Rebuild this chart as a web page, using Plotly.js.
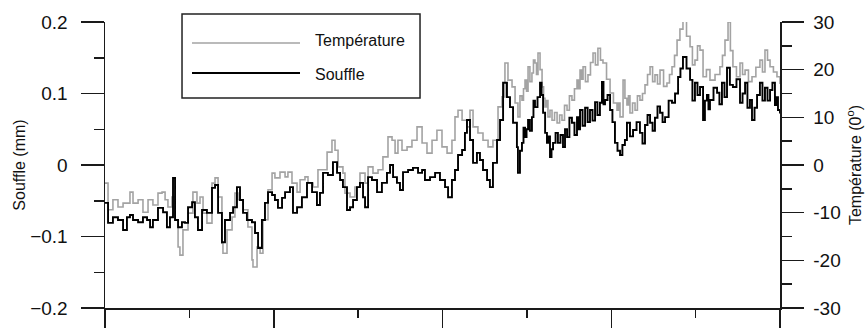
<!DOCTYPE html>
<html>
<head>
<meta charset="utf-8">
<script src="https://cdn.plot.ly/plotly-3.0.1.min.js"></script>
<style>html,body{margin:0;padding:0;background:#fff;}#chart{width:867px;height:328px;}</style>
</head>
<body>
<div id="chart"></div>
<script>
// Time axis (arbitrary units, 0..400) and series values
const tSouffle = [0,1.8,4.7,7.7,10.7,13.0,14.8,16.6,19.6,22.5,24.9,26.7,28.4,31.4,34.4,36.7,38.5,40.3,41.5,43.3,45.6,47.4,49.2,51.6,53.3,55.1,57.5,60.4,63.4,65.2,67.0,69.3,71.1,74.1,75.9,78.2,80.0,81.8,84.1,87.1,88.9,90.7,93.0,94.8,96.6,99.0,100.7,102.5,104.9,106.7,109.6,111.4,113.8,116.7,119.7,122.7,125.6,127.4,129.2,132.1,135.1,137.5,139.3,141.0,143.4,145.2,147.0,149.3,151.1,152.9,154.1,155.9,158.2,161.2,164.1,167.1,168.9,170.7,173.0,174.8,176.6,179.6,182.5,185.5,187.9,189.6,192.6,195.6,198.5,201.5,203.3,205.6,207.4,209.2,211.6,213.3,214.5,216.3,218.1,220.4,222.2,224.0,226.4,228.1,229.9,232.3,234.1,235.9,238.2,240.0,241.8,244.1,
  244.7,245.9,247.1,248.0,248.9,249.8,250.7,251.8,253.0,253.9,254.8,256.3,257.8,258.7,259.6,260.8,261.9,262.8,263.7,264.6,265.5,267.0,268.4,269.9,271.4,272.6,273.8,275.2,276.7,278.2,279.7,280.6,281.5,283.0,284.5,286.0,287.4,288.9,290.4,291.8,293.3,294.5,295.4,296.3,297.8,299.3,300.7,302.2,303.7,305.2,306.6,308.1,309.3,311.1,312.9,315.0,317.0,318.5,320.0,321.5,323.0,324.5,325.9,327.4,328.9,330.4,331.9,334.0,336.0,337.8,339.6,341.0,342.5,344.6,346.7,348.1,349.6,351.1,352.6,354.4,355.5,356.7,357.6,358.5,360.6,362.7,364.1,365.6,367.1,368.6,370.3,372.1,374.2,376.3,377.8,379.3,380.7,382.2,383.4,384.9,386.4,388.1,389.6,391.1,392.6,394.1,395.5,397.0,398.0,398.8,400];
const souffle = [-0.053,-0.081,-0.073,-0.077,-0.091,-0.073,-0.070,-0.077,-0.080,-0.073,-0.077,-0.087,-0.077,-0.060,-0.066,-0.087,-0.073,-0.018,-0.077,-0.087,-0.080,-0.081,-0.059,-0.052,-0.073,-0.091,-0.063,-0.067,-0.032,-0.028,-0.067,-0.108,-0.077,-0.067,-0.059,-0.031,-0.049,-0.067,-0.077,-0.080,-0.095,-0.116,-0.077,-0.053,-0.038,-0.042,-0.049,-0.060,-0.046,-0.038,-0.031,-0.067,-0.059,-0.045,-0.025,-0.038,-0.056,-0.039,-0.011,-0.014,0.004,-0.011,-0.021,-0.031,-0.063,-0.059,-0.049,-0.031,-0.025,-0.045,-0.059,-0.017,-0.021,-0.038,-0.025,-0.011,0.000,-0.017,-0.025,-0.035,-0.010,-0.007,-0.004,-0.011,-0.007,-0.021,-0.017,-0.011,-0.021,-0.031,-0.045,-0.021,-0.007,0.014,0.021,0.045,0.063,0.035,0.003,0.017,0.007,-0.007,-0.021,-0.031,0.003,0.035,0.063,0.115,0.095,0.081,0.059,0.025,
  -0.011,0.020,0.031,0.052,0.039,0.050,0.063,0.048,0.067,0.090,0.081,0.095,0.115,0.098,0.073,0.045,0.031,0.040,0.011,0.022,0.031,0.045,0.031,0.042,0.025,0.050,0.039,0.066,0.059,0.042,0.067,0.050,0.077,0.055,0.080,0.060,0.077,0.062,0.088,0.070,0.087,0.116,0.085,0.091,0.098,0.077,0.060,0.031,0.020,0.014,0.028,0.035,0.059,0.040,0.049,0.060,0.045,0.030,0.056,0.070,0.059,0.048,0.066,0.082,0.073,0.060,0.067,0.090,0.087,0.100,0.123,0.135,0.151,0.135,0.119,0.090,0.115,0.098,0.109,0.063,0.090,0.098,0.078,0.091,0.108,0.101,0.085,0.115,0.095,0.136,0.112,0.109,0.120,0.087,0.100,0.115,0.080,0.091,0.063,0.080,0.098,0.115,0.090,0.108,0.090,0.105,0.115,0.084,0.095,0.077,0.072];

const tTemp = [0,1.8,4.7,7.7,10.7,14.8,16.6,19.6,22.5,25.5,28.4,31.4,33.8,35.6,37.3,39.7,41.5,43.3,44.4,46.2,49.2,52.1,54.5,56.3,58.1,60.4,63.4,65.2,67.0,69.3,69.9,72.3,75.3,77.0,78.8,81.8,84.7,87.1,87.7,90.1,91.9,93.6,96.6,99.0,100.7,103.7,106.7,108.4,110.8,113.8,115.6,118.5,120.3,123.3,126.2,128.6,131.6,134.5,136.3,138.1,141.0,142.2,145.2,148.1,151.1,154.1,155.9,158.8,161.8,164.7,167.7,170.1,171.9,173.6,176.0,179.0,181.9,184.9,187.9,190.8,193.8,196.7,199.7,202.7,205.6,207.4,209.2,211.6,214.5,216.3,218.1,221.0,224.0,227.0,229.9,232.9,235.3,237.0,238.8,241.2,243.0,
  244.7,245.9,247.1,248.0,248.9,249.8,250.7,251.8,253.0,253.9,254.8,255.7,256.6,257.8,259.0,259.9,260.7,261.6,262.5,263.7,264.9,266.4,267.9,269.4,270.8,272.3,273.8,275.2,276.7,278.2,279.7,280.6,281.5,282.4,283.3,284.7,286.2,287.7,289.2,290.6,292.1,293.6,295.1,297.2,299.3,301.3,303.4,304.3,305.2,307.0,308.1,309.3,310.2,311.1,312.6,314.1,315.5,317.0,318.5,320.0,321.5,323.0,324.5,325.9,327.4,328.9,331.0,333.0,334.5,336.0,337.5,339.0,340.7,342.5,344.6,346.7,348.1,349.6,351.1,352.6,354.4,356.4,358.5,361.5,364.4,365.9,367.4,369.2,370.6,372.1,374.2,376.3,377.8,379.3,381.3,383.4,385.7,388.1,389.6,391.1,392.6,394.1,396.1,398.2,400];
const temperature = [-3.8,-9.4,-7.3,-8.8,-8.0,-5.7,-8.0,-7.3,-9.9,-7.3,-8.4,-5.9,-5.7,-7.3,-8.8,-6.7,-11.5,-17.2,-18.9,-13.6,-10.1,-5.7,-8.0,-6.7,-10.1,-12.2,-3.8,-2.7,-6.7,-16.4,-18.5,-13.6,-10.9,-5.9,-7.3,-9.4,-13.0,-19.9,-21.4,-17.2,-18.5,-11.5,-5.2,-1.7,-2.7,-1.5,-2.5,-1.5,-3.8,-5.7,-3.1,-2.5,-3.8,-4.6,-1.0,-1.0,2.7,5.2,3.1,-0.4,-1.7,-5.9,-6.7,-4.6,-1.7,-3.8,-0.4,-1.7,-1.0,1.7,5.9,5.2,2.5,5.2,3.1,3.8,5.2,8.0,4.6,2.5,5.2,7.3,3.8,2.5,5.2,10.1,11.5,9.4,8.0,11.5,8.0,6.7,5.2,3.8,5.2,12.2,14.3,21.4,17.8,16.4,13.0,
  10.1,14.5,13.6,16.0,17.8,15.5,20.6,17.5,19.3,22.0,21.4,19.0,23.5,20.0,16.4,14.0,12.2,13.5,10.1,11.5,9.4,11.0,8.8,10.5,9.4,12.5,11.5,14.5,13.6,16.0,17.8,16.0,19.9,18.0,20.6,17.5,18.9,21.5,23.5,21.0,24.5,22.0,21.4,18.0,15.1,13.0,11.5,13.0,10.1,17.8,14.0,12.6,14.5,10.9,13.0,11.5,14.5,13.6,15.0,16.8,19.0,20.6,17.5,18.9,17.0,19.9,16.5,17.2,19.0,20.6,23.0,26.2,28.5,31.0,27.0,24.8,21.0,22.0,25.0,24.1,18.5,20.0,17.8,19.0,20.6,23.0,26.2,30.0,24.0,20.6,18.5,21.4,19.0,19.9,17.5,18.5,20.5,22.0,19.5,24.1,22.0,20.6,19.5,18.5,17.0];

const xMajorTicks = [0,100,200,300,400];
const leftTickVals = [-0.2,-0.1,0,0.1,0.2];
const leftTickText = ['\u22120.2','\u22120.1','0','0.1','0.2'];
const rightTickVals = [-30,-20,-10,0,10,20,30];
const rightTickText = ['-30','-20','-10','0','10','20','30'];

const FONT = 'Liberation Sans, Arial, sans-serif';
const AX = '#1a1a1a';

const traces = [
  {x: tTemp, y: temperature, name: 'Température', yaxis: 'y2', type: 'scatter', mode: 'lines',
   line: {color: '#a3a3a3', width: 1.6, shape: 'hv'}, showlegend: false},
  {x: tSouffle, y: souffle, name: 'Souffle', yaxis: 'y', type: 'scatter', mode: 'lines',
   line: {color: '#000000', width: 1.9, shape: 'hv'}, showlegend: false}
];

// legend drawn as shapes + annotations
const lgX0 = 0.1141, lgX1 = 0.4667, lgY0 = 0.7343, lgY1 = 1.028;
const layout = {
  width: 867, height: 328,
  margin: {l: 105, r: 87, t: 22, b: 20, pad: 0},
  paper_bgcolor: '#ffffff', plot_bgcolor: '#ffffff',
  font: {family: FONT, size: 16, color: '#111'},
  showlegend: false,
  xaxis: {
    range: [0, 400], showgrid: false, zeroline: false, showline: true, linecolor: AX, linewidth: 1.5,
    tickmode: 'array', tickvals: xMajorTicks, ticks: 'outside', ticklen: 20, tickwidth: 1.5, tickcolor: AX,
    showticklabels: false,
    minor: {dtick: 50, tick0: 0, ticks: 'outside', ticklen: 8, tickwidth: 1.5, tickcolor: AX, showgrid: false}
  },
  yaxis2: {
    range: [-30, 30], side: 'right', showgrid: false, zeroline: false, showline: true, linecolor: AX, linewidth: 1.5,
    tickmode: 'array', tickvals: rightTickVals, ticktext: rightTickText,
    ticks: 'outside', ticklen: 22, tickwidth: 1.5, tickcolor: AX, ticklabelstandoff: 6,
    tickfont: {family: FONT, size: 19, color: '#111'},
    minor: {dtick: 5, tick0: -30, ticks: 'outside', ticklen: 10, tickwidth: 1.5, tickcolor: AX, showgrid: false},
    title: {text: 'Température (0<sup>o</sup>)', font: {family: FONT, size: 16, color: '#111'}, standoff: 10}
  },
  yaxis: {
    range: [-0.2, 0.2], overlaying: 'y2', side: 'left', showgrid: false, zeroline: false, showline: true, linecolor: AX, linewidth: 1.5,
    tickmode: 'array', tickvals: leftTickVals, ticktext: leftTickText,
    ticks: 'outside', ticklen: 23, tickwidth: 1.5, tickcolor: AX, ticklabelstandoff: 9,
    tickfont: {family: FONT, size: 19, color: '#111'},
    minor: {dtick: 0.05, tick0: -0.2, ticks: 'outside', ticklen: 10, tickwidth: 1.5, tickcolor: AX, showgrid: false},
    title: {text: 'Souffle (mm)', font: {family: FONT, size: 16, color: '#111'}, standoff: 0}
  },
  shapes: [
    {type: 'rect', xref: 'paper', yref: 'paper', x0: lgX0, x1: lgX1, y0: lgY0, y1: lgY1,
     line: {color: '#222', width: 1.5}, fillcolor: 'rgba(255,255,255,1)', layer: 'above'},
    {type: 'line', xref: 'paper', yref: 'paper', x0: 0.1289, x1: 0.2889, y0: 0.9266, y1: 0.9266,
     line: {color: '#a3a3a3', width: 1.6}, layer: 'above'},
    {type: 'line', xref: 'paper', yref: 'paper', x0: 0.1289, x1: 0.2889, y0: 0.8217, y1: 0.8217,
     line: {color: '#000', width: 1.9}, layer: 'above'}
  ],
  annotations: [
    {xref: 'paper', yref: 'paper', x: 0.3081, y: 0.9336, xanchor: 'left', yanchor: 'middle', showarrow: false,
     text: traces[0].name, font: {family: FONT, size: 16, color: '#111'}},
    {xref: 'paper', yref: 'paper', x: 0.3081, y: 0.8147, xanchor: 'left', yanchor: 'middle', showarrow: false,
     text: traces[1].name, font: {family: FONT, size: 16, color: '#111'}}
  ]
};

Plotly.newPlot('chart', traces, layout, {staticPlot: true, displayModeBar: false});
</script>
</body>
</html>
